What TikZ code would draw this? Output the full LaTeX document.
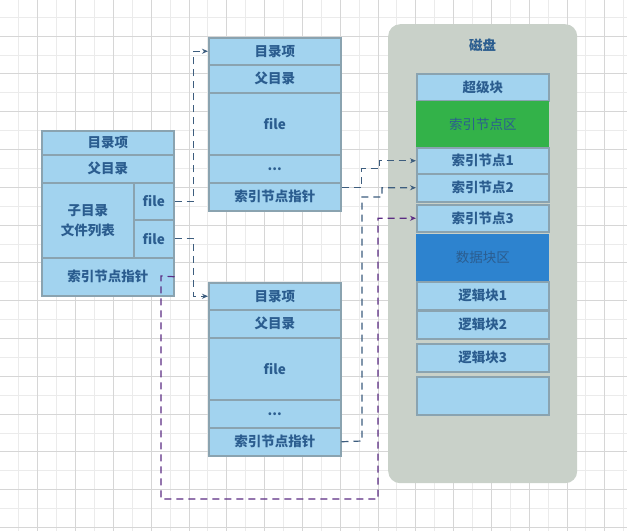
\documentclass[tikz,border=0pt]{standalone}
\usepackage{fontspec}
\setmainfont{Noto Sans CJK SC}
\usetikzlibrary{arrows.meta}
\definecolor{cellfill}{HTML}{A2D3EF}
\definecolor{cellborder}{HTML}{8AA3B0}
\definecolor{txt}{HTML}{2B5D8F}
\definecolor{diskbg}{HTML}{C9D1C9}
\definecolor{greenfill}{HTML}{33B249}
\definecolor{bluefill}{HTML}{2D83CF}
\definecolor{connblue}{HTML}{3D5D7E}
\definecolor{connpurple}{HTML}{5B2C83}
\definecolor{gridmajor}{HTML}{D6D6D6}
\definecolor{gridminor}{HTML}{EBEBEB}
\tikzset{
  cell/.style={draw=cellborder, fill=cellfill, line width=1.5pt, text=txt,
    inner sep=0pt, anchor=north west, align=center,
    font=\bfseries\fontsize{13.5}{20}\selectfont},
  conn/.style={draw=connblue, line width=1.2pt, dash pattern=on 7pt off 5pt,
    -{Stealth[length=6pt,width=5pt]}},
  connp/.style={conn, draw=connpurple},
}
\begin{document}
\begin{tikzpicture}[x=1pt,y=-1pt]
\useasboundingbox (0,0) rectangle (627,531);
\fill[white] (0,0) rectangle (627,531);
% grid
\foreach \i in {0,...,16} \draw[gridminor, line width=0.8pt] ({18.8+37.8*\i},0) -- ({18.8+37.8*\i},531);
\foreach \i in {0,...,13} \draw[gridminor, line width=0.8pt] (0,{17.1+37.8*\i}) -- (627,{17.1+37.8*\i});
\foreach \i in {0,...,15} \draw[gridmajor, line width=0.8pt] ({37.7+37.8*\i},0) -- ({37.7+37.8*\i},531);
\foreach \i in {0,...,13} \draw[gridmajor, line width=0.8pt] (0,{36+37.8*\i}) -- (627,{36+37.8*\i});

% disk panel
\node[fill=diskbg, rounded corners=12pt, minimum width=189pt, minimum height=459pt,
  anchor=north west, inner sep=0pt] (disk) at (388,24) {};
\node[text=txt, font=\bfseries\fontsize{13.5}{17}\selectfont] (disktitle) at (482.5,45) {磁盘};

% left box A
\node[cell, minimum width=132pt, minimum height=24pt] (A1) at (41,130) {目录项};
\node[cell, minimum width=132pt, minimum height=28pt] (A2) at (41,154) {父目录};
\node[cell, minimum width=92pt, minimum height=75pt] (A3) at (41,182) {子目录\\文件列表};
\node[cell, minimum width=40pt, minimum height=37pt] (Af1) at (133,182) {file};
\node[cell, minimum width=40pt, minimum height=38pt] (Af2) at (133,219) {file};
\node[cell, minimum width=132pt, minimum height=38pt] (A4) at (41,257) {索引节点指针};

% box B
\node[cell, minimum width=132pt, minimum height=27pt] (B1) at (208,37) {目录项};
\node[cell, minimum width=132pt, minimum height=28pt] (B2) at (208,64) {父目录};
\node[cell, minimum width=132pt, minimum height=62pt] (B3) at (208,92) {file};
\node[cell, minimum width=132pt, minimum height=28pt] (B4) at (208,154) {...};
\node[cell, minimum width=132pt, minimum height=28pt] (B5) at (208,182) {索引节点指针};

% box C
\node[cell, minimum width=132pt, minimum height=27pt] (C1) at (208,282) {目录项};
\node[cell, minimum width=132pt, minimum height=28pt] (C2) at (208,309) {父目录};
\node[cell, minimum width=132pt, minimum height=62pt] (C3) at (208,337) {file};
\node[cell, minimum width=132pt, minimum height=28pt] (C4) at (208,399) {...};
\node[cell, minimum width=132pt, minimum height=28pt] (C5) at (208,427) {索引节点指针};

% disk column
\node[cell, minimum width=132pt, minimum height=27pt] (D1) at (416,73) {超级块};
\node[cell, draw=none, fill=greenfill, minimum width=133pt, minimum height=47pt, font=\fontsize{13.5}{17}\selectfont] (D2) at (415.5,100) {索引节点区};
\node[cell, minimum width=132pt, minimum height=26pt] (D3) at (416,147) {索引节点1};
\node[cell, minimum width=132pt, minimum height=28pt] (D4) at (416,173) {索引节点2};
\node[cell, minimum width=132pt, minimum height=27pt] (D5) at (416,204) {索引节点3};
\node[cell, draw=none, fill=bluefill, minimum width=133pt, minimum height=48pt, font=\fontsize{13.5}{17}\selectfont] (D6) at (415.5,233) {数据块区};
\node[cell, minimum width=132pt, minimum height=28pt] (D7) at (416,281) {逻辑块1};
\node[cell, minimum width=132pt, minimum height=28pt] (D8) at (416,310) {逻辑块2};
\node[cell, minimum width=132pt, minimum height=28pt] (D9) at (416,343) {逻辑块3};
\node[cell, minimum width=132pt, minimum height=38pt] (D10) at (416,376) {};

% connectors
\draw[conn] (Af1.east) -- ++(19,0) |- (B1.west);
\draw[conn] (Af2.east) -- ++(19,0) |- (C1.west);
\draw[conn] ([yshift=9pt]B5.east) -- ++(20,0) -- ++(0,-19) -- ++(18,0) |- (D3.west);
\draw[conn] (C5.east) -- (362,441) -- (362,197) -- (382,197) |- (D4.west);
\draw[connp] (A4.east) -- (161,276) -- (161,499) -- (378,499) |- (D5.west);
\end{tikzpicture}
\end{document}
